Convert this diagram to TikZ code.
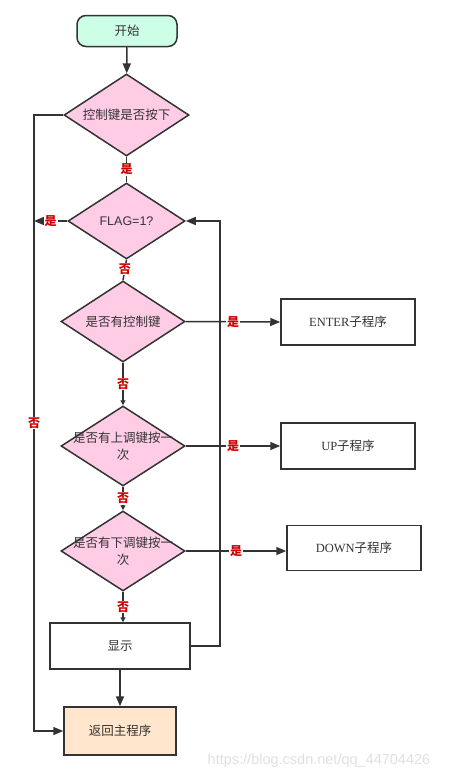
\documentclass[tikz,border=0pt]{standalone}
\usepackage{fontspec}
\setmainfont{Noto Sans CJK SC}
\newfontfamily\serifl{Liberation Serif}
\newfontfamily\sansl{Liberation Sans}
\newfontfamily\wmfont{Liberation Sans}
\usetikzlibrary{shapes.geometric,arrows.meta}
\definecolor{ln}{HTML}{333333}
\definecolor{pinkf}{HTML}{FFCCE6}
\definecolor{mintf}{HTML}{CCFFE6}
\definecolor{peachf}{HTML}{FFE6CC}
\definecolor{redl}{HTML}{CC0000}
\begin{document}
\begin{tikzpicture}[x=1pt,y=-1pt,
  every node/.style={text=ln},
  base/.style={draw=ln, line width=1.5pt, inner sep=0pt, font=\fontsize{12.5}{15}\selectfont},
  term/.style={base, fill=mintf, rounded corners=9pt, minimum width=100pt, minimum height=31pt},
  dia/.style={base, diamond, fill=pinkf},
  box/.style={base, fill=white, minimum width=134pt, minimum height=46pt},
  txt/.style={inner sep=0pt, font=\fontsize{12.5}{17}\selectfont, align=center},
  lab/.style={fill=white, inner sep=1pt, text=redl, font=\bfseries\fontsize{12}{12}\selectfont},
  conn/.style={draw=ln, line width=1.5pt},
  arr/.style={conn, -{Triangle[length=10pt,width=8pt]}},
  sarr/.style={conn, -{Triangle[length=5pt,width=5pt]}}
]
\useasboundingbox (0,0) rectangle (450,779);

% nodes
\node[term] (start) at (127,31) {开始};
\node[dia, minimum width=125pt, minimum height=82pt] (d1) at (126.5,115) {};
\node[txt] (t1) at (d1.center) {控制键是否按下};
\node[dia, minimum width=117pt, minimum height=76pt] (d2) at (126.5,221) {};
\node[txt] (t2) at (d2.center) {{\sansl FLAG=1?}};
\node[dia, minimum width=124pt, minimum height=81pt] (d3) at (123,321.5) {};
\node[txt] (t3) at (d3.center) {是否有控制键};
\node[dia, minimum width=124pt, minimum height=80pt] (d4) at (123,446) {};
\node[txt] (t4) at (d4.center) {是否有上调键按一\\次};
\node[dia, minimum width=124pt, minimum height=80pt] (d5) at (123,551) {};
\node[txt] (t5) at (d5.center) {是否有下调键按一\\次};
\node[box] (enter) at (348,322) {{\serifl ENTER}子程序};
\node[box] (up) at (348,446) {{\serifl UP}子程序};
\node[box, minimum height=45pt] (down) at (354,548) {{\serifl DOWN}子程序};
\node[box, minimum width=140pt] (disp) at (120,646) {显示};
\node[base, fill=peachf, minimum width=112pt, minimum height=48pt] (ret) at (120,731) {返回主程序};

% connectors
\coordinate (lt) at (34,115);
\coordinate (rt) at (220,221);
\coordinate (fl) at (34,221);

\draw[arr] (start) -- (d1);
\draw[conn] (d1.south) -- (d2.north) node[lab, midway] {是};
\draw[arr] (d2.west) -- (fl) node[lab, midway] {是};
\draw[conn] (d2.south) -- (d3.north) node[lab, pos=0.45] {否};
\draw[arr] (d1.west) -- (lt) |- (ret.west) node[lab, pos=0.25] {否};
\draw[arr] (d3.east) -- (enter.west) node[lab, midway] {是};
\draw[sarr] (d3.south) -- (d4.north) node[lab, midway] {否};
\draw[arr] (d4.east) -- (up.west) node[lab, midway] {是};
\draw[sarr] (d4.south) -- (d5.north) node[lab, midway] {否};
\draw[arr] (d5.east) -- (down.west |- d5.east) node[lab, midway] {是};
\draw[sarr] (d5.south) -- (disp.north -| d5.south) node[lab, midway] {否};
\draw[arr] (disp.east) -| (rt) -- (d2.east);
\draw[arr] (disp.south) -- (ret.north);

\node[font=\wmfont\fontsize{14.5}{15}\selectfont, text=black!12, inner sep=0pt] (wm) at (319,761) {https://blog.csdn.net/qq\_44704426};
\end{tikzpicture}
\end{document}
